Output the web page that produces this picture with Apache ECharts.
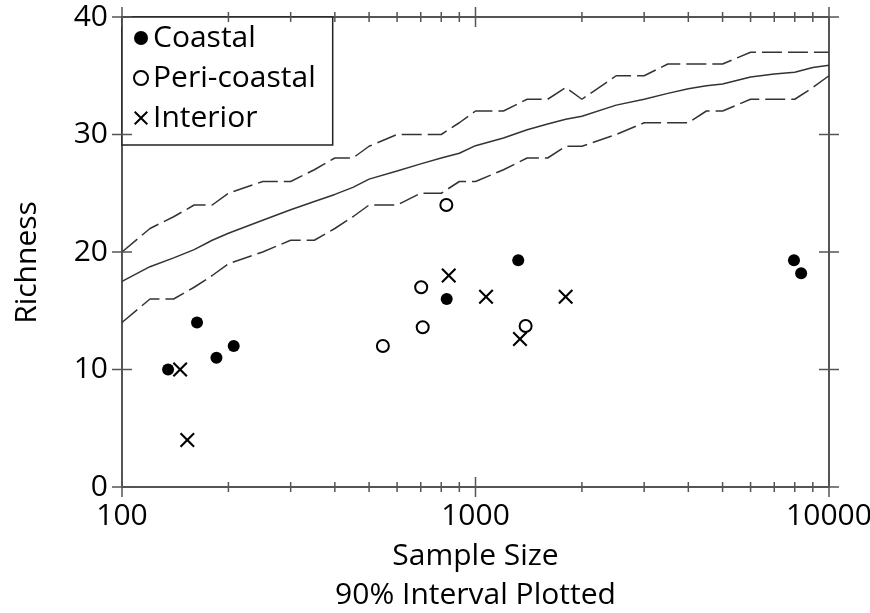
<!DOCTYPE html>
<html>
<head>
<meta charset="utf-8">
<script src="https://cdn.jsdelivr.net/npm/echarts@6/dist/echarts.min.js"></script>
<style>
html,body{margin:0;padding:0;background:#fff;}
#chart{width:870px;height:613px;}
</style>
</head>
<body>
<div id="chart"></div>
<script>
// ---- data ----
const sampleSizes = [100,120,140,160,180,200,250,300,350,400,450,500,600,700,800,900,1000,1200,1400,1600,1800,2000,2500,3000,3500,4000,4500,5000,6000,7000,8000,9000,10000];
const medianRichness = [17.5,18.75,19.5,20.2,21.0,21.6,22.7,23.6,24.3,24.9,25.5,26.2,26.9,27.5,28.0,28.4,29.05,29.7,30.4,30.9,31.3,31.55,32.5,33.0,33.5,33.9,34.15,34.3,34.9,35.15,35.3,35.7,35.9];
const upper90 = [20,22,23,24,24,25,26,26,27,28,28,29,30,30,30,31,32,32,33,33,34,33,35,35,36,36,36,36,37,37,37,37,37];
const lower90 = [14,16,16,17,18,19,20,21,21,22,23,24,24,25,25,26,26,27,28,28,29,29,30,31,31,31,32,32,33,33,33,34,35];

const coastalX = [135, 163, 185, 207, 829, 1321, 7960, 8340];
const coastalY = [10, 14, 11, 12, 16, 19.3, 19.3, 18.2];
const periX = [547, 702, 709, 827, 1386];
const periY = [12, 17, 13.6, 24, 13.7];
const interiorX = [146, 153, 840, 1071, 1799, 1336];
const interiorY = [10, 4, 18, 16.2, 16.2, 12.6];

const xMajorTicks = [100, 1000, 10000];
const xMinorTicks = [200,300,400,500,600,700,800,900,2000,3000,4000,5000,6000,7000,8000,9000];
const yTicks = [0, 10, 20, 30, 40];
const xRange = [100, 10000];
const yRange = [0, 40];

const seriesNames = ['Coastal', 'Peri-coastal', 'Interior'];
const xName = 'Sample Size\n90% Interval Plotted';
const yName = 'Richness';

// ---- helpers ----
const FONT = 'Open Sans';
const AXIS_COLOR = '#555';
const crossPath = 'path://M1,0L5,4L9,0L10,1L6,5L10,9L9,10L5,6L1,10L0,9L4,5L0,1Z';

function pairs(xs, ys) { return xs.map((x, i) => [x, ys[i]]); }

function xTickSeries(values, half) {
  return {
    type: 'custom', silent: true, clip: false, z: 6,
    data: values.map(v => [v, yRange[0]]),
    renderItem: function (params, api) {
      const v = api.value(0);
      const b = api.coord([v, yRange[0]]);
      const t = api.coord([v, yRange[1]]);
      const st = { stroke: AXIS_COLOR, lineWidth: 1.5 };
      return { type: 'group', children: [
        { type: 'line', shape: { x1: b[0], y1: b[1] - half, x2: b[0], y2: b[1] + half }, style: st },
        { type: 'line', shape: { x1: t[0], y1: t[1] - half, x2: t[0], y2: t[1] + half }, style: st }
      ]};
    }
  };
}
function yTickSeries(values, half) {
  return {
    type: 'custom', silent: true, clip: false, z: 6,
    data: values.map(v => [xRange[0], v]),
    renderItem: function (params, api) {
      const v = api.value(1);
      const l = api.coord([xRange[0], v]);
      const r = api.coord([xRange[1], v]);
      const st = { stroke: AXIS_COLOR, lineWidth: 1.5 };
      return { type: 'group', children: [
        { type: 'line', shape: { x1: l[0] - half, y1: l[1], x2: l[0] + half, y2: l[1] }, style: st },
        { type: 'line', shape: { x1: r[0] - half, y1: r[1], x2: r[0] + half, y2: r[1] }, style: st }
      ]};
    }
  };
}

const chart = echarts.init(document.getElementById('chart'), null, { renderer: 'canvas' });
const option = {
  backgroundColor: '#fff',
  animation: false,
  textStyle: { fontFamily: FONT },
  grid: { left: 122, right: 41, top: 17, bottom: 126, outerBoundsMode: 'none', containLabel: false,
          show: true, borderColor: AXIS_COLOR, borderWidth: 2, backgroundColor: 'transparent' },
  legend: {
    data: seriesNames,
    orient: 'vertical',
    left: 122, top: 17,
    padding: [4, 17, 10, 11],
    itemGap: 6,
    itemWidth: 14, itemHeight: 14,
    borderColor: '#222', borderWidth: 1.5,
    backgroundColor: '#fff',
    textStyle: { fontFamily: FONT, fontSize: 30, color: '#000', lineHeight: 34 }
  },
  xAxis: {
    type: 'log', logBase: 10, min: xRange[0], max: xRange[1],
    name: xName, nameLocation: 'middle', nameGap: 50,
    nameTextStyle: { fontFamily: FONT, fontSize: 30, color: '#000', lineHeight: 39 },
    axisLine: { show: false },
    axisTick: { show: false },
    splitLine: { show: false },
    axisLabel: { fontFamily: FONT, fontSize: 30, color: '#000', margin: 14, formatter: v => String(Math.round(v)) }
  },
  yAxis: {
    type: 'value', min: yRange[0], max: yRange[1], interval: 10,
    name: yName, nameLocation: 'middle', nameGap: 80,
    nameTextStyle: { fontFamily: FONT, fontSize: 30, color: '#000', padding: [0, 21, 0, 0] },
    axisLine: { show: false },
    axisTick: { show: false },
    splitLine: { show: false },
    axisLabel: { fontFamily: FONT, fontSize: 30, color: '#000', margin: 14 }
  },
  series: [
    { type: 'line', name: 'Median', data: pairs(sampleSizes, medianRichness), symbol: 'none', silent: true, z: 2,
      lineStyle: { color: '#333', width: 1.5 } },
    { type: 'line', name: 'Upper 90%', data: pairs(sampleSizes, upper90), symbol: 'none', silent: true, z: 2,
      lineStyle: { color: '#333', width: 1.5, type: [20, 6] } },
    { type: 'line', name: 'Lower 90%', data: pairs(sampleSizes, lower90), symbol: 'none', silent: true, z: 2,
      lineStyle: { color: '#333', width: 1.5, type: [20, 6] } },
    { type: 'scatter', name: seriesNames[0], data: pairs(coastalX, coastalY), symbol: 'circle', symbolSize: 12, z: 3,
      itemStyle: { color: '#000', opacity: 1 } },
    { type: 'scatter', name: seriesNames[1], data: pairs(periX, periY), symbol: 'circle', symbolSize: 12, z: 3,
      itemStyle: { color: '#fff', borderColor: '#000', borderWidth: 2, opacity: 1 } },
    { type: 'scatter', name: seriesNames[2], data: pairs(interiorX, interiorY), symbol: crossPath, symbolSize: 15, z: 4,
      itemStyle: { color: '#000', opacity: 1 } },
    xTickSeries(xMajorTicks, 10),
    xTickSeries(xMinorTicks, 5),
    yTickSeries(yTicks, 10)
  ]
};
chart.setOption(option);
</script>
</body>
</html>
